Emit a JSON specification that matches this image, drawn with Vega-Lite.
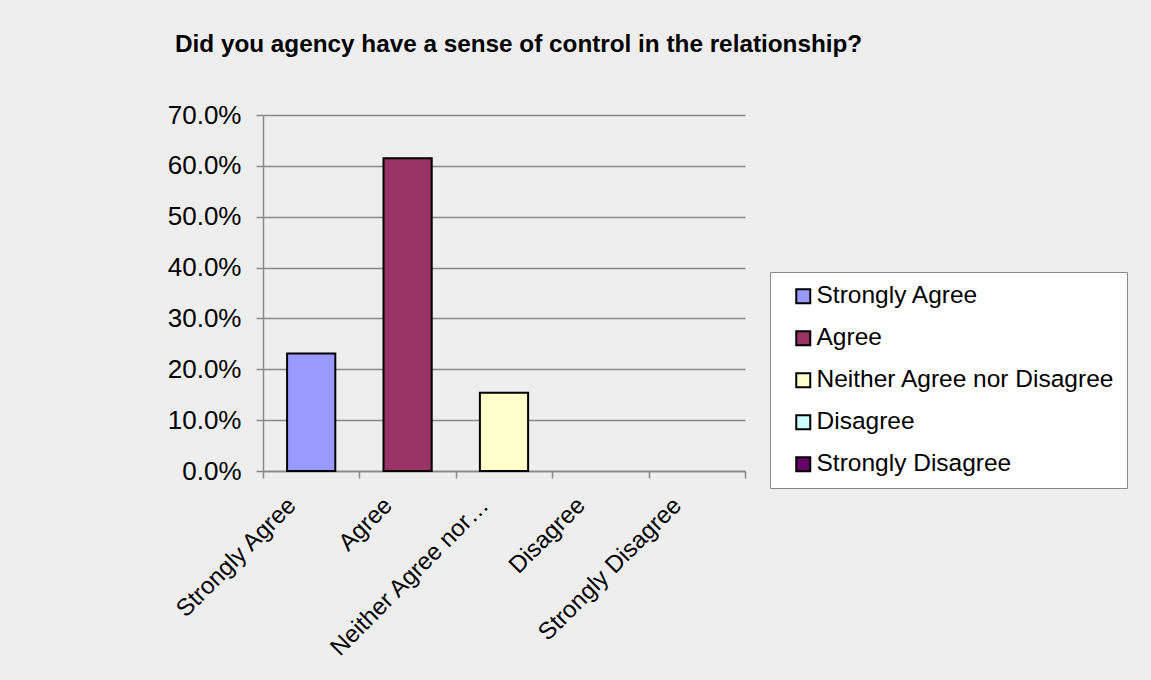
{
  "$schema": "https://vega.github.io/schema/vega-lite/v6.json",
  "width": 482,
  "height": 356,
  "autosize": {"type": "none"},
  "padding": {"left": 263, "top": 115, "right": 406, "bottom": 209},
  "background": "#EEEEEE",
  "config": {
    "view": {"stroke": null},
    "font": "Liberation Sans"
  },
  "title": {
    "text": "Did you agency have a sense of control in the relationship?",
    "anchor": "start",
    "frame": "group",
    "dx": -88,
    "offset": 26,
    "fontSize": 24.3,
    "fontWeight": "bold",
    "font": "Liberation Sans",
    "color": "black",
    "baseline": "alphabetic"
  },
  "data": {
    "values": [
      {"response": "Strongly Agree", "pct": 0.231},
      {"response": "Agree", "pct": 0.615},
      {"response": "Neither Agree nor Disagree", "pct": 0.154},
      {"response": "Disagree", "pct": 0},
      {"response": "Strongly Disagree", "pct": 0}
    ]
  },
  "transform": [{"filter": "datum.pct > 0"}],
  "mark": {"type": "bar", "stroke": "black", "strokeWidth": 2, "width": {"band": 0.5}},
  "encoding": {
    "x": {
      "field": "response",
      "type": "nominal",
      "sort": null,
      "scale": {
        "domain": ["Strongly Agree", "Agree", "Neither Agree nor Disagree", "Disagree", "Strongly Disagree"],
        "paddingInner": 0,
        "paddingOuter": 0
      },
      "axis": {
        "title": null,
        "labelAngle": -45,
        "labelFontSize": 24,
        "labelLimit": 217,
        "labelColor": "black",
        "labelPadding": 15,
        "labelOffset": -28,
        "tickBand": "extent",
        "ticks": true,
        "tickSize": 7,
        "tickColor": "#888888",
        "tickWidth": 1.5,
        "domainColor": "#888888",
        "domainWidth": 1.5,
        "grid": false
      }
    },
    "y": {
      "field": "pct",
      "type": "quantitative",
      "scale": {"domain": [0, 0.7]},
      "axis": {
        "title": null,
        "format": ".1%",
        "values": [0, 0.1, 0.2, 0.3, 0.4, 0.5, 0.6, 0.7],
        "labelFontSize": 26,
        "labelColor": "black",
        "labelPadding": 15,
        "tickSize": 7,
        "tickColor": "#888888",
        "tickWidth": 1.5,
        "domainColor": "#888888",
        "domainWidth": 1.5,
        "grid": true,
        "gridColor": "#888888",
        "gridWidth": 1.5
      }
    },
    "color": {
      "field": "response",
      "type": "nominal",
      "sort": null,
      "scale": {
        "domain": ["Strongly Agree", "Agree", "Neither Agree nor Disagree", "Disagree", "Strongly Disagree"],
        "range": ["#9999FF", "#993366", "#FFFFCC", "#CCFFFF", "#660066"]
      },
      "legend": {
        "title": null,
        "orient": "none",
        "legendX": 507,
        "legendY": 157,
        "fillColor": "white",
        "strokeColor": "#888888",
        "padding": 12,
        "symbolType": "square",
        "symbolSize": 196,
        "symbolStrokeColor": "black",
        "symbolStrokeWidth": 2,
        "symbolOffset": 9,
        "labelFontSize": 24.5,
        "labelColor": "black",
        "labelOffset": 1,
        "labelLimit": 400,
        "rowPadding": 17
      }
    }
  }
}
